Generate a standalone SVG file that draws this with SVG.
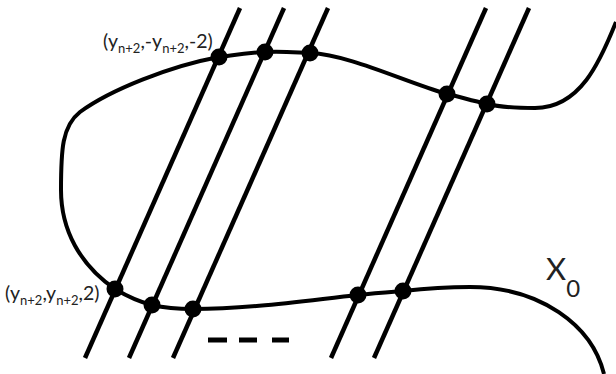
<svg xmlns="http://www.w3.org/2000/svg" width="616" height="374" viewBox="0 0 616 374">
<style>
.ln{stroke:#000;stroke-width:4.5;fill:none;stroke-linecap:butt}
.cv{stroke:#000;stroke-width:4;fill:none}
.dot{fill:#000}
.lbl{font-family:Lato,"Open Sans",sans-serif;fill:#222}
</style>
<rect width="616" height="374" fill="#fff"/>
<g id="connectors">
<line class="ln" x1="240" y1="8" x2="85" y2="358"/>
<line class="ln" x1="284" y1="8" x2="129" y2="358"/>
<line class="ln" x1="328" y1="8" x2="173" y2="358"/>
<line class="ln" x1="486" y1="8" x2="331" y2="358"/>
<line class="ln" x1="529" y1="8" x2="374" y2="358"/>
<path id="curve-top" class="cv" d="M 616 22 C 600 62, 580 108, 535 108 C 515 108, 500 107, 487 104 C 470 100, 460 97, 447 94 C 400 80, 350 55, 310 53 C 290 52, 280 51, 265 52 C 245 53, 235 55, 219 57 C 170 66, 110 90, 80 112 C 62 126, 61 150, 61 190 C 61 230, 80 265, 115 289"/>
<path id="curve-bottom" class="cv" d="M 115 289 C 130 298, 140 302, 152 305 C 165 308, 180 309, 193 309 C 250 309, 310 300, 358 295 C 375 293, 390 292, 403 291 C 430 288, 450 287, 470 287 C 540 287, 592 325, 604 374"/>
<g id="dashes">
<line class="ln" x1="208" y1="340" x2="227" y2="340" style="stroke-width:5"/>
<line class="ln" x1="239" y1="340" x2="257" y2="340" style="stroke-width:5"/>
<line class="ln" x1="272" y1="340" x2="289" y2="340" style="stroke-width:5"/>
</g>
</g>
<g id="node-t1"><circle class="dot" cx="219" cy="57" r="8.5"/></g>
<g id="node-t2"><circle class="dot" cx="265" cy="52" r="8.5"/></g>
<g id="node-t3"><circle class="dot" cx="310" cy="53" r="8.5"/></g>
<g id="node-t4"><circle class="dot" cx="447" cy="94" r="8.5"/></g>
<g id="node-t5"><circle class="dot" cx="487" cy="104" r="8.5"/></g>
<g id="node-b1"><circle class="dot" cx="115" cy="289" r="8.5"/></g>
<g id="node-b2"><circle class="dot" cx="152" cy="305" r="8.5"/></g>
<g id="node-b3"><circle class="dot" cx="193" cy="309" r="8.5"/></g>
<g id="node-b4"><circle class="dot" cx="358" cy="295" r="8.5"/></g>
<g id="node-b5"><circle class="dot" cx="403" cy="291" r="8.5"/></g>
<g id="label-top"><text class="lbl" x="103" y="48" style="font-size:19.5px">(y<tspan style="font-size:13px" dy="5">n+2</tspan><tspan dy="-5">,-y</tspan><tspan style="font-size:13px" dy="5">n+2</tspan><tspan dy="-5">,-2)</tspan></text></g>
<g id="label-bottom"><text class="lbl" x="5" y="300" style="font-size:19.5px">(y<tspan style="font-size:13px" dy="5">n+2</tspan><tspan dy="-5">,y</tspan><tspan style="font-size:13px" dy="5">n+2</tspan><tspan dy="-5">,2)</tspan></text></g>
<g id="label-x0"><text class="lbl" x="546" y="280" style="font-size:31px">X<tspan style="font-size:24px" dy="17">0</tspan></text></g>
</svg>
